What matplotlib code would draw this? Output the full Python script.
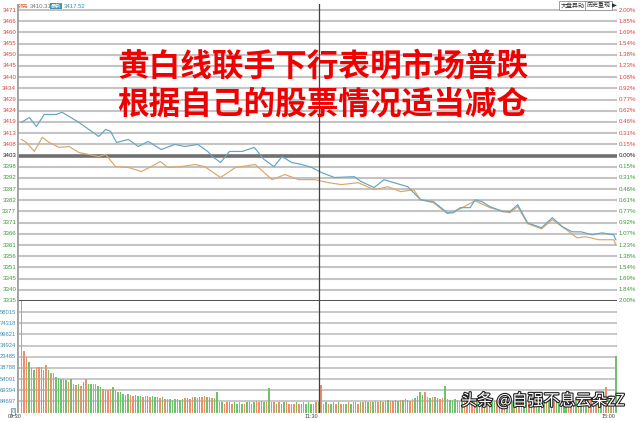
import numpy as np
import matplotlib
matplotlib.use("Agg")
import matplotlib.pyplot as plt
import matplotlib.patheffects as pe
import matplotlib.transforms as mtransforms

plt.rcParams["font.family"] = ["Noto Sans CJK SC", "DejaVu Sans"]

# --- data ---
prev_close = 3403.0

# white line (blue) : minute, price
white_min = [0, 3.2, 6, 9.2, 14, 16.4, 19.2, 23.2, 27.2, 31.2, 34, 36, 38.4, 43.2, 47.2,
             51.2, 56.4, 62, 66, 71.2, 75.2, 77.2, 80.4, 84, 89.2, 94, 98, 102, 105.2,
             109.2, 113.2, 117.2, 121.2, 126.4, 134.4, 137.2, 142.4, 146.4, 150.4, 156,
             161.2, 166.4, 172, 174.4, 177.2, 181.2, 183.2, 186, 189.2, 194.4, 197.2,
             200.4, 204.4, 210, 214.4, 218.4, 222.4, 226, 230.4, 234.4, 239.2, 240]
white_px = [3418.5, 3420.8, 3416.6, 3422.2, 3422.2, 3423.2, 3421.3, 3418.5, 3415.2,
            3411.9, 3415.2, 3414.3, 3409.1, 3410.5, 3407.2, 3409.6, 3405.8, 3408.2,
            3407.2, 3408.2, 3404.9, 3402.5, 3399.7, 3404.9, 3404.9, 3406.8, 3401.1,
            3397.8, 3402.5, 3399.7, 3398.8, 3397.4, 3395.0, 3392.7, 3393.1, 3390.8,
            3388.0, 3391.7, 3390.3, 3388.4, 3382.3, 3381.4, 3376.2, 3376.2, 3378.6,
            3378.6, 3382.3, 3381.4, 3379.1, 3376.7, 3376.7, 3380.0, 3371.5, 3369.2,
            3373.9, 3369.7, 3367.3, 3367.3, 3365.9, 3366.8, 3365.9, 3363.6]

# yellow line (orange) : minute, price
yellow_min = [0, 2, 5.2, 8.4, 11.2, 15.2, 19.2, 23.2, 27.2, 31.2, 34, 38, 43.2, 48.4,
              52.4, 56, 59.2, 64.4, 70, 74, 80.4, 86.4, 94.4, 101.2, 106.4, 112, 118.4,
              124, 129.2, 136, 142.4, 148, 153.2, 158.4, 161.2, 166.4, 172, 177.2,
              183.2, 189.2, 197.2, 200.4, 204.4, 210, 214.4, 220, 224.4, 228, 233.2,
              239.2, 240]
yellow_px = [3410.5, 3409.1, 3404.9, 3411.5, 3409.1, 3406.8, 3407.2, 3404.4, 3403.5,
             3402.5, 3403.5, 3397.8, 3397.4, 3395.5, 3397.8, 3400.2, 3397.4, 3397.8,
             3398.8, 3397.8, 3392.7, 3397.4, 3398.8, 3391.7, 3394.1, 3391.7, 3391.7,
             3390.3, 3389.4, 3390.3, 3387.0, 3388.4, 3386.1, 3387.0, 3382.3, 3380.9,
             3375.8, 3378.1, 3381.8, 3378.6, 3376.2, 3379.1, 3371.1, 3368.7, 3373.0,
             3368.3, 3364.5, 3365.0, 3363.6, 3363.6, 3361.2]

# volume per minute, in grid steps of the lower panel
volume = [10.5, 5.5, 5.0, 4.5, 4.0, 3.8, 4.1, 4.1, 4.1, 3.8,
          4.3, 3.8, 3.5, 3.5, 3.2, 3.1, 3.0, 3.0, 2.9, 2.7,
          3.0, 2.6, 2.5, 2.6, 2.4, 2.7, 3.0, 2.6, 2.6, 2.6,
          2.6, 2.4, 2.3, 2.1, 2.0, 2.0, 2.1, 2.3, 2.0, 1.8,
          1.8, 1.7, 1.6, 1.7, 1.6, 1.5, 1.6, 1.5, 1.5, 1.4,
          1.5, 1.5, 1.4, 1.5, 1.4, 1.4, 1.3, 1.4, 1.2, 1.2,
          1.2, 1.1, 1.2, 1.2, 1.1, 1.2, 1.3, 1.3, 1.2, 1.4,
          1.4, 1.3, 1.4, 1.4, 1.5, 1.4, 1.4, 1.3, 1.3, 1.8,
          0.9, 0.9, 0.8, 0.9, 0.9, 0.8, 0.9, 0.8, 0.9, 0.8,
          0.8, 0.9, 0.9, 0.8, 0.9, 1.0, 0.9, 1.0, 0.9, 0.9,
          2.2, 0.9, 0.9, 0.8, 0.9, 0.8, 0.9, 0.9, 0.8, 0.8,
          0.8, 0.9, 0.8, 0.8, 0.9, 0.8, 0.9, 0.8, 0.8, 0.9,
          0.9, 2.5, 0.8, 0.9, 0.8, 0.8, 0.9, 0.8, 0.9, 0.8,
          0.8, 0.8, 0.9, 0.8, 0.9, 0.9, 0.8, 0.9, 0.9, 1.0,
          0.9, 0.9, 0.9, 1.0, 0.9, 1.0, 0.9, 1.0, 1.1, 1.0,
          1.0, 1.1, 1.0, 1.1, 1.1, 1.2, 1.1, 1.0, 1.2, 1.3,
          1.5, 1.8, 1.6, 1.8, 1.4, 1.3, 1.35, 1.4, 1.3, 1.2,
          1.3, 2.4, 1.2, 1.1, 1.1, 1.2, 1.1, 1.0, 1.1, 1.1,
          1.0, 1.1, 1.1, 1.2, 1.1, 1.25, 1.3, 1.25, 1.2, 1.3,
          1.1, 1.0, 1.1, 1.0, 1.0, 1.1, 1.0, 0.9, 1.0, 1.0,
          1.1, 1.0, 1.0, 1.1, 1.0, 1.1, 1.0, 1.1, 1.0, 1.1,
          1.1, 1.0, 1.1, 1.2, 1.1, 1.0, 1.1, 1.1, 1.0, 1.1,
          1.2, 1.1, 1.1, 1.0, 1.2, 1.3, 1.2, 1.3, 1.4, 1.3,
          1.2, 1.3, 1.4, 1.3, 1.2, 1.4, 2.3, 1.3, 1.6, 1.2,
          5.1]
vol_dir = ("rrrgrgrrgg" "rgrrgggrgr" "grrgrgrggr" "rggrgrrgrg" "ggrgrrgggr"
           "rgrggrrgrr" "gggrggrgrr" "grgrrggrgg" "rgrrgrggrg" "rggrgrrggr"
           "grrgrggrrg" "rgrgrgggrr" "grrgrggrgr" "rgrggrrgrg" "grgrrgrggr"
           "rggrgrgrrg" "gggrrgrggr" "rgrggggrgr" "rgrrggrgrg" "ggrgrrgggr"
           "grrggrgrgg" "rgrgrrggrg" "grrggrgggr" "rgrggrrgrg" "g")

price_labels = ["3471", "3466", "3460", "3455", "3450", "3445", "3440", "3434", "3429",
                "3424", "3419", "3413", "3408", "3403", "3398", "3392", "3387", "3382",
                "3377", "3371", "3366", "3361", "3356", "3351", "3345", "3340", "3335"]
pct_labels = ["2.00%", "1.85%", "1.69%", "1.54%", "1.38%", "1.23%", "1.08%", "0.92%",
              "0.77%", "0.62%", "0.46%", "0.31%", "0.15%", "0.00%", "0.15%", "0.31%",
              "0.46%", "0.61%", "0.77%", "0.92%", "1.07%", "1.23%", "1.38%", "1.54%",
              "1.69%", "1.84%", "2.00%"]
vol_labels = ["58015", "74318", "99621", "34924", "23485", "38788", "54091", "69394", "84697"]
time_labels = ["09:30", "11:30", "15:00"]
time_pos = [0, 120, 240]

title_lines = ["黄白线联手下行表明市场普跌", "根据自己的股票情况适当减仓"]
watermark = "头条 @自强不息云朵zZ"

# --- layout ---
W, H = 640, 421
fig = plt.figure(figsize=(6.4, 4.21), dpi=100)
fig.patch.set_facecolor("white")

def fx(x):
    return x / W

def fy(y):
    return 1 - y / H

x0, x1 = 17, 617
ax = fig.add_axes([fx(x0), fy(301), fx(x1) - fx(x0), fy(4) - fy(301)])
axv = fig.add_axes([fx(x0), fy(412.5), fx(x1) - fx(x0), fy(301) - fy(412.5)])

RED_T = "#d9453f"
GREEN_T = "#3a9a3a"
GRID = "#c4c4c4"

n = len(price_labels)
mid = n // 2
pct_levels = [(mid - i) * 2.0 / mid for i in range(n)]
levels = [prev_close * (1 + p / 100) for p in pct_levels]
top_pct = 2.0 + 6 / 145 * 2.0

for a in (ax, axv):
    a.set_xlim(-1.8, 240.5)
    a.set_xticks([])
    a.set_yticks([])
    for s in a.spines.values():
        s.set_visible(False)

ax.set_ylim(prev_close * 0.98, prev_close * (1 + top_pct / 100))

trL = mtransforms.blended_transform_factory(ax.transAxes, ax.transData)
for i, lv in enumerate(levels):
    if i == mid:
        ax.axhline(lv, color="#707070", lw=2.6, zorder=1)
    elif i == n - 1:
        ax.axhline(lv, color="#303030", lw=1.2, zorder=1)
    else:
        ax.axhline(lv, color=GRID, lw=1.5, zorder=1)
    col = RED_T if i < mid else ("#202020" if i == mid else GREEN_T)
    ax.text(-0.0015, lv, price_labels[i], transform=trL, ha="right", va="center",
            fontsize=4.4, color=col, family="Liberation Sans", clip_on=False)
    ax.text(1.003, lv, pct_labels[i], transform=trL, ha="left", va="center",
            fontsize=4.4, color=col, family="Liberation Sans", clip_on=False)

ax.plot(white_min, white_px, color="#62a5c4", lw=0.85, zorder=3)
ax.plot(yellow_min, yellow_px, color="#dba66a", lw=0.85, zorder=2)

# volume panel
axv.set_ylim(0, 10)
for k in range(1, 10):
    axv.axhline(k, color=GRID, lw=1.3, zorder=1)
trV = mtransforms.blended_transform_factory(axv.transAxes, axv.transData)
for k, lab in enumerate(vol_labels):
    axv.text(-0.0015, 9 - k, lab, transform=trV, ha="right", va="center",
             fontsize=4.2, color="#3d8fb0", family="Liberation Sans", clip_on=False)
axv.text(-0.004, 0.1, "0", transform=trV, ha="right", va="center", fontsize=4,
         color="#3d8fb0", family="Liberation Sans", clip_on=False,
         bbox=dict(boxstyle="square,pad=0.15", fc="white", ec="#808080", lw=0.5))

mins = np.arange(len(volume))
cols = ["#ee8f6b" if c == "r" else "#6fc06f" for c in vol_dir]
axv.bar(mins, volume, width=0.6, color=cols, zorder=2)

# vertical frame lines
for a in (ax, axv):
    a.axvline(-1.8, color="#a0a0a0", lw=2.0, zorder=4)
    a.axvline(240.5, color="#909090", lw=0.8, zorder=4)
    a.axvline(120, color="#404040", lw=0.9, zorder=4)

for t, lab in zip(time_pos, time_labels):
    xx = x0 + (t + 1.8) / 242.3 * (x1 - x0)
    fig.text(fx(xx), fy(417), lab, ha="right", va="center", fontsize=4,
             color="#404040", family="Liberation Sans")

# header
fig.text(fx(18), fy(6), "领先", fontsize=3.8, color="#d9663f", va="center")
fig.text(fx(30), fy(6), "3410.31", fontsize=4.3, color="#707070", va="center",
         family="Liberation Sans")
fig.text(fx(51), fy(6), "最新", fontsize=3.8, color="white", va="center",
         bbox=dict(boxstyle="square,pad=0.1", fc="#4b93ad", ec="none"))
fig.text(fx(64), fy(6), "3417.52", fontsize=4.3, color="#3d8fb0", va="center",
         family="Liberation Sans")

for lab, xa, xb in [("大盘异动", 560, 585), ("历史重现", 586, 611)]:
    fig.text(fx((xa + xb) / 2), fy(5.5), lab, ha="center", va="center", fontsize=4.3,
             color="#303030",
             bbox=dict(boxstyle="square,pad=0.25", fc="white", ec="#909090", lw=0.6))
fig.text(fx(614.5), fy(5.5), "▶", ha="center", va="center", fontsize=4.5,
         color="#303030", family="DejaVu Sans")

# overlay text
fig.text(fx(323), fy(67), title_lines[0], ha="center", va="center", fontsize=22.8,
         color="#f00000", fontweight="bold")
fig.text(fx(323), fy(105), title_lines[1], ha="center", va="center", fontsize=22.8,
         color="#f00000", fontweight="bold")

fig.text(fx(543), fy(401), watermark, ha="center", va="center", fontsize=11.5,
         color="white",
         path_effects=[pe.withStroke(linewidth=1.6, foreground="#202020")])

fig.savefig("out.png", dpi=100)
